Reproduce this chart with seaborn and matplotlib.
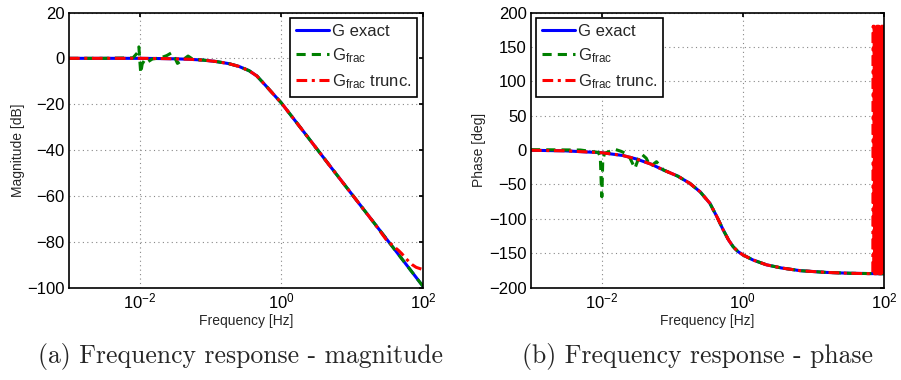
import matplotlib
matplotlib.use("Agg")
import matplotlib.pyplot as plt
import seaborn as sns
import pandas as pd

# --- magnitude (dB) ---
f_mag = [0.001, 0.003, 0.01, 0.02, 0.03, 0.05, 0.08, 0.12, 0.18, 0.25, 0.35, 0.45,
         0.6, 0.8, 1, 2, 5, 10, 20, 50, 100]
mag_exact = [0, 0, 0, -0.1, -0.2, -0.4, -0.8, -1.4, -2.3, -3.5, -5.4, -7.7,
             -11.9, -16.2, -19.5, -31.5, -47.5, -59.5, -71.5, -87.4, -99.5]

f_mag_frac = [0.001, 0.003, 0.008, 0.0093, 0.0097, 0.0100, 0.0103, 0.0108, 0.0118,
              0.013, 0.015, 0.02, 0.024, 0.028, 0.031, 0.034, 0.04, 0.048, 0.056,
              0.08, 0.12, 0.18, 0.25, 0.35, 0.45, 0.6, 0.8, 1, 2, 5, 10, 20, 50, 100]
mag_frac = [0, 0, 0.2, 2.5, 5.0, -1.0, -6.5, -2.5, -0.5,
            -1.5, -0.3, 0.3, 1.2, 2.4, 0.5, -2.2, -0.8, 1.0, -0.4,
            -0.8, -1.4, -2.3, -3.5, -5.4, -7.7, -11.9, -16.2, -19.5, -31.5, -47.5, -59.5, -71.5, -87.4, -99.5]

f_mag_trunc = [0.001, 0.003, 0.01, 0.02, 0.03, 0.05, 0.08, 0.12, 0.18, 0.25, 0.35, 0.45,
               0.6, 0.8, 1, 2, 5, 10, 20, 30, 40, 45, 50, 60, 70, 80, 100]
mag_trunc = [0, 0, 0, -0.1, -0.2, -0.4, -0.8, -1.4, -2.3, -3.5, -5.4, -7.7,
             -11.9, -16.2, -19.5, -31.5, -47.5, -59.5, -71.5, -79, -82.5, -83.8, -85.2, -88, -90, -91.2, -92.2]

# --- phase (deg) ---
f_ph = [0.001, 0.003, 0.01, 0.02, 0.031, 0.05, 0.075, 0.12, 0.178, 0.25, 0.342, 0.43,
        0.527, 0.63, 0.73, 0.85, 1.01, 1.4, 2.17, 3.5, 6.46, 15, 33, 100]
ph_exact = [-0.4, -1.2, -3.9, -8, -13, -20.5, -29, -38, -48.5, -61, -77.5, -97,
            -116, -131, -140.6, -147.5, -152.7, -160, -167, -171.5, -175.5, -178, -179.3, -180]

f_ph_frac = [0.001, 0.005, 0.009, 0.0096, 0.0099, 0.0101, 0.0104, 0.011, 0.013, 0.0155,
             0.019, 0.024, 0.0297, 0.034, 0.037, 0.043, 0.049, 0.06, 0.075,
             0.12, 0.178, 0.25, 0.342, 0.43, 0.527, 0.63, 0.73, 0.85, 1.01, 1.4, 2.17,
             3.5, 6.46, 15, 33, 100]
ph_frac = [0.5, 0, -3.5, -10, -50, -68, -15, -5, -2, 1,
           -2, -7, -26.7, -10, -6, -12, -24, -17, -29,
           -38, -48.5, -61, -77.5, -97, -116, -131, -140.6, -147.5, -152.7, -160, -167,
           -171.5, -175.5, -178, -179.3, -180]

f_ph_trunc = [0.001, 0.003, 0.01, 0.02, 0.031, 0.05, 0.075, 0.12, 0.178, 0.25, 0.342, 0.43,
              0.527, 0.63, 0.73, 0.85, 1.01, 1.4, 2.17, 3.5, 6.46, 15, 33, 69.5,
              70.5, 71.5, 72.6, 73.7, 74.8, 75.9, 77.1, 78.3, 79.5, 80.7, 81.9, 83.1,
              84.4, 85.7, 87.0, 88.3, 89.6, 91.0, 92.4, 93.8, 95.2, 96.6, 98.1, 99.5]
ph_trunc = [-0.4, -1.2, -3.9, -8, -13, -20.5, -29, -38, -48.5, -61, -77.5, -97,
            -116, -131, -140.6, -147.5, -152.7, -160, -167, -171.5, -175.5, -178, -179.3, -180,
            180, -180, 180, -180, 180, -180, 180, -180, 180, -180, 180, -180,
            180, -180, 180, -180, 180, -180, 180, -180, 180, -180, 180, -180]

labels = ["G exact", r"G$_{frac}$", r"G$_{frac}$ trunc."]
colors = ["#0000ff", "#008000", "#ff0000"]
styles = ["-", (0, (3, 2)), (0, (3.5, 1.5, 1, 1.5))]

sns.set_theme(style="white")
plt.rcParams["font.family"] = ["Liberation Sans", "DejaVu Sans"]
plt.rcParams["mathtext.default"] = "regular"

fig = plt.figure(figsize=(9.01, 3.80), dpi=100)
ax1 = fig.add_axes([0.0766, 0.2434, 0.3929, 0.7237])
ax2 = fig.add_axes([0.5893, 0.2434, 0.3918, 0.7237])

mag_sets = [(f_mag, mag_exact), (f_mag_frac, mag_frac), (f_mag_trunc, mag_trunc)]
ph_sets = [(f_ph, ph_exact), (f_ph_frac, ph_frac), (f_ph_trunc, ph_trunc)]

for ax, sets in [(ax1, mag_sets), (ax2, ph_sets)]:
    for (x, y), lab, c, ls in zip(sets, labels, colors, styles):
        d = pd.DataFrame({"f": x, "v": y})
        sns.lineplot(data=d, x="f", y="v", ax=ax, color=c, linestyle=ls, lw=2.2,
                     label=lab, estimator=None, sort=False)
    ax.set_xscale("log")
    ax.set_xlim(1e-3, 1e2)
    ax.set_xticks([1e-2, 1e0, 1e2])
    ax.minorticks_off()
    ax.grid(True, color="#888888", linestyle=(0, (1, 3)), lw=0.8)
    ax.tick_params(direction="in", length=3, labelsize=12, top=True, right=True,
                   colors="black", pad=3)
    for s in ax.spines.values():
        s.set_color("black")
        s.set_linewidth(1.2)
    ax.set_xlabel("Frequency [Hz]", fontsize=10, labelpad=2)

ax1.set_ylim(-100, 20)
ax1.set_yticks(range(-100, 21, 20))
ax1.set_ylabel("Magnitude [dB]", fontsize=10, labelpad=2)
ax2.set_ylim(-200, 200)
ax2.set_yticks(range(-200, 201, 50))
ax2.set_ylabel("Phase [deg]", fontsize=10, labelpad=2)

for ax, loc, anchor in [(ax1, "upper right", (0.984, 0.981)), (ax2, "upper left", (0.014, 0.981))]:
    leg = ax.legend(loc=loc, bbox_to_anchor=anchor, borderaxespad=0, fontsize=12,
                    handlelength=2.0, handletextpad=0.15, labelspacing=0.45,
                    fancybox=False, framealpha=1, edgecolor="black", borderpad=0.35)
    leg.get_frame().set_linewidth(1.2)

fig.text(241 / 901, 1 - 357 / 380, "(a) Frequency response - magnitude", family="cmr10",
         fontsize=18.5, ha="center", va="center")
fig.text(697 / 901, 1 - 357 / 380, "(b) Frequency response - phase", family="cmr10",
         fontsize=18.5, ha="center", va="center")

fig.savefig("out.png", dpi=100)
